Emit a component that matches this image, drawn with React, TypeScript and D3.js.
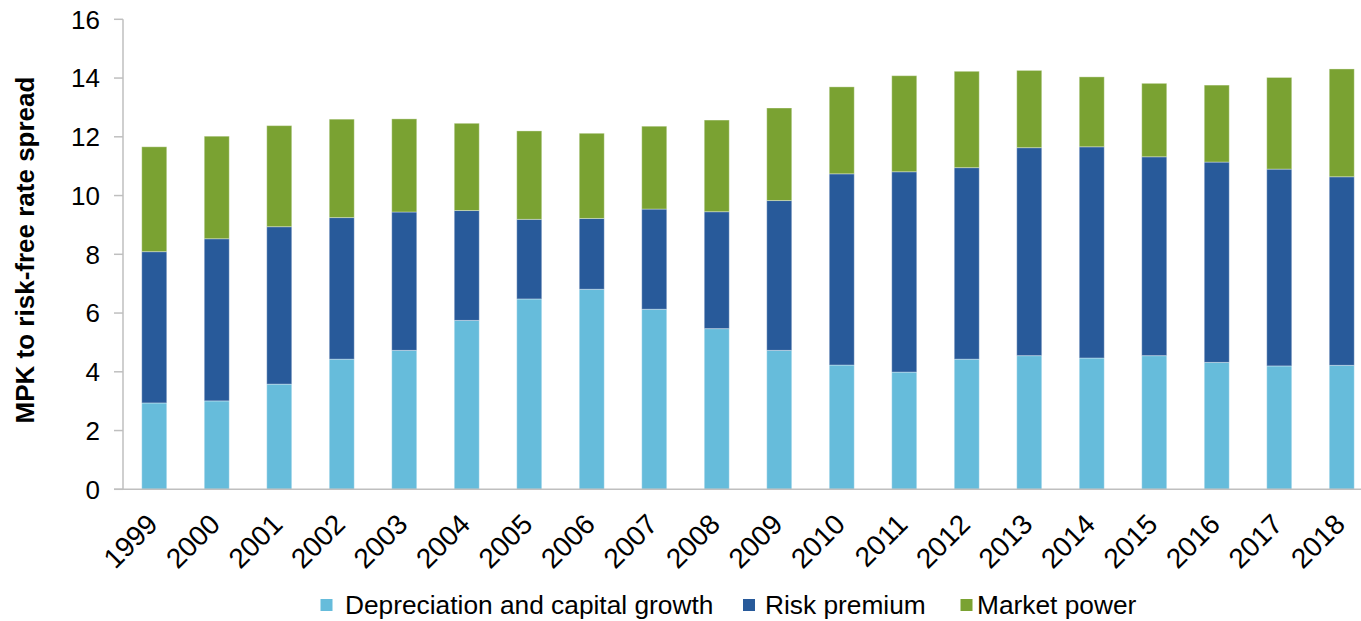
import React from "react";
import * as d3 from "d3";

const years = ["1999","2000","2001","2002","2003","2004","2005","2006","2007","2008","2009","2010","2011","2012","2013","2014","2015","2016","2017","2018"];
// read as stack boundaries from the picture
const depreciation = [2.94, 3.01, 3.58, 4.43, 4.73, 5.75, 6.48, 6.81, 6.13, 5.47, 4.73, 4.23, 3.99, 4.43, 4.55, 4.47, 4.55, 4.32, 4.20, 4.22];
const riskPremium = [5.15, 5.52, 5.36, 4.82, 4.71, 3.74, 2.71, 2.41, 3.41, 3.98, 5.10, 6.51, 6.82, 6.52, 7.08, 7.19, 6.77, 6.82, 6.70, 6.42];
const marketPower = [3.57, 3.49, 3.44, 3.35, 3.17, 2.97, 3.01, 2.90, 2.82, 3.12, 3.15, 2.96, 3.27, 3.28, 2.63, 2.38, 2.50, 2.62, 3.12, 3.67];
const yTicks = [0, 2, 4, 6, 8, 10, 12, 14, 16];
const seriesNames = ["Depreciation and capital growth", "Risk premium", "Market power"];
const seriesColors = ["#66BCDB", "#285A9A", "#7AA232"];

const W = 1361;
const H = 621;
const FONT = "'Liberation Sans', Arial, sans-serif";

export default function App() {
  const x = d3.scaleBand<string>().domain(years).range([123, 1373]).paddingInner(0.6).paddingOuter(0.3);
  const y = d3.scaleLinear().domain([0, 16]).range([489.3, 19.3]);

  const rows = years.map((yr, i) => ({
    year: yr,
    dep: depreciation[i],
    risk: riskPremium[i],
    mkt: marketPower[i],
  }));
  const stack = d3.stack<any>().keys(["dep", "risk", "mkt"]);
  const layers = stack(rows);

  const legendX = [320.5, 743, 960.5];
  const legendTextX = [345, 765, 977];

  return (
    <svg width={W} height={H} style={{ position: "absolute", left: 0, top: 0, background: "#fff" }} fontFamily={FONT}>
      <rect x={0} y={0} width={W} height={H} fill="#fff" />
      {layers.map((layer, li) => (
        <g key={li}>
          {layer.map((d, i) => (
            <rect
              key={i}
              x={x(years[i])!}
              y={y(d[1])}
              width={x.bandwidth()}
              height={y(d[0]) - y(d[1])}
              fill={seriesColors[li]}
              stroke="#ffffff"
              strokeOpacity={0.35}
              strokeWidth={1}
            />
          ))}
        </g>
      ))}
      {/* y axis */}
      <line x1={123} x2={123} y1={19.3} y2={489.3} stroke="#BFBFBF" strokeWidth={1.5} />
      {yTicks.map((t) => (
        <g key={t}>
          <line x1={114} x2={123} y1={y(t)} y2={y(t)} stroke="#BFBFBF" strokeWidth={1.5} />
          <text x={100} y={y(t)} dy="0.36em" textAnchor="end" fontSize={26} fill="#000">
            {t}
          </text>
        </g>
      ))}
      {/* x axis */}
      <line x1={114} x2={1361} y1={489.3} y2={489.3} stroke="#BFBFBF" strokeWidth={1.5} />
      {years.map((yr) => {
        const cx = x(yr)! + x.bandwidth() / 2;
        return (
          <text
            key={yr}
            transform={`translate(${cx - 2},${519}) rotate(-45)`}
            textAnchor="end"
            dy="0.35em"
            fontSize={28}
            fill="#000"
          >
            {yr}
          </text>
        );
      })}
      {/* y title */}
      <text
        transform={`translate(${34},${250}) rotate(-90)`}
        textAnchor="middle"
        fontSize={26}
        fontWeight="bold"
        fill="#000"
      >
        MPK to risk-free rate spread
      </text>
      {/* legend */}
      {seriesNames.map((n, i) => (
        <g key={n}>
          <rect x={legendX[i]} y={599} width={12} height={12} fill={seriesColors[i]} />
          <text x={legendTextX[i]} y={613.5} fontSize={26.3} fill="#000">
            {n}
          </text>
        </g>
      ))}
    </svg>
  );
}
